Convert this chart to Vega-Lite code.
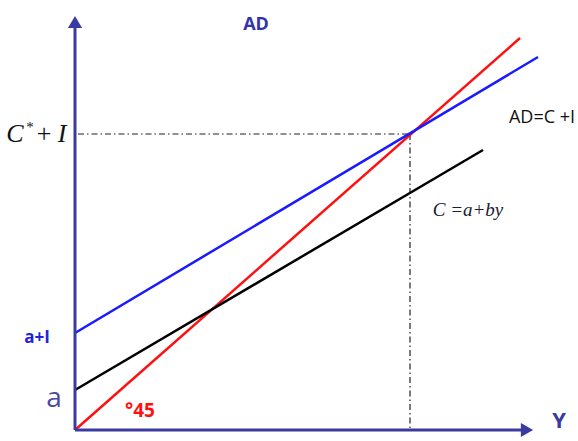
{
  "$schema": "https://vega.github.io/schema/vega-lite/v6.json",
  "width": 578,
  "height": 441,
  "autosize": {"type": "fit", "contains": "padding"},
  "padding": 0,
  "background": "white",
  "config": {"view": {"stroke": null}},
  "datasets": {
    "lines": [
      {"series": "red", "x": 0, "y": 0},
      {"series": "red", "x": 445, "y": 392},
      {"series": "blue", "x": 0, "y": 97},
      {"series": "blue", "x": 463, "y": 373},
      {"series": "black", "x": 0, "y": 40},
      {"series": "black", "x": 408, "y": 280}
    ],
    "guides": [
      {"g": "h", "x": 3, "y": 296},
      {"g": "h", "x": 335, "y": 296},
      {"g": "v", "x": 335, "y": 296},
      {"g": "v", "x": 335, "y": 2}
    ],
    "axes": [
      {"a": "x", "x": 0, "y": 0},
      {"a": "x", "x": 452, "y": 0},
      {"a": "y", "x": 0, "y": 0},
      {"a": "y", "x": 0, "y": 405}
    ]
  },
  "encoding": {
    "x": {"field": "x", "type": "quantitative", "scale": {"domain": [-75, 503], "nice": false, "zero": false}, "axis": null},
    "y": {"field": "y", "type": "quantitative", "scale": {"domain": [-11, 430], "nice": false, "zero": false}, "axis": null}
  },
  "layer": [
    {
      "data": {"name": "guides"},
      "mark": {"type": "line", "color": "#222222", "strokeWidth": 1.2, "strokeDash": [6, 3, 1.5, 3]},
      "encoding": {"detail": {"field": "g"}}
    },
    {
      "data": {"name": "lines"},
      "mark": {"type": "line", "strokeWidth": 2.5},
      "encoding": {
        "color": {"field": "series", "type": "nominal", "scale": {"domain": ["red", "blue", "black"], "range": ["#ff1010", "#1a1aff", "#000000"]}, "legend": null}
      }
    },
    {
      "data": {"name": "axes"},
      "mark": {"type": "line", "color": "#3a3aa0", "strokeWidth": 3},
      "encoding": {"detail": {"field": "a"}}
    },
    {
      "data": {"values": [{"x": 0, "y": 408}]},
      "mark": {"type": "point", "shape": "triangle-up", "filled": true, "opacity": 1, "color": "#3a3aa0", "size": 200}
    },
    {
      "data": {"values": [{"x": 452, "y": 0}]},
      "mark": {"type": "point", "shape": "triangle-right", "filled": true, "opacity": 1, "color": "#3a3aa0", "size": 200}
    },
    {
      "data": {"values": [{"x": 181, "y": 405, "t": "AD"}]},
      "mark": {"type": "text", "font": "Open Sans", "fontWeight": "bold", "fontSize": 18, "color": "#3333aa", "baseline": "middle"},
      "encoding": {"text": {"field": "t"}}
    },
    {
      "data": {"values": [{"x": 484, "y": 9, "t": "Y"}]},
      "mark": {"type": "text", "font": "Open Sans", "fontWeight": "bold", "fontSize": 22, "color": "#3a3aa0", "baseline": "middle"},
      "encoding": {"text": {"field": "t"}}
    },
    {
      "data": {"values": [{"x": -60, "y": 296, "t": "C"}, {"x": -13, "y": 296, "t": "I"}]},
      "mark": {"type": "text", "font": "Liberation Serif", "fontStyle": "italic", "fontSize": 26, "color": "#111111", "baseline": "middle"},
      "encoding": {"text": {"field": "t"}}
    },
    {
      "data": {"values": [{"x": -45, "y": 303, "t": "*"}]},
      "mark": {"type": "text", "font": "Liberation Serif", "fontSize": 15, "color": "#111111", "baseline": "middle"},
      "encoding": {"text": {"field": "t"}}
    },
    {
      "data": {"values": [{"x": -31, "y": 296, "t": "+"}]},
      "mark": {"type": "text", "font": "Liberation Serif", "fontSize": 26, "color": "#111111", "baseline": "middle"},
      "encoding": {"text": {"field": "t"}}
    },
    {
      "data": {"values": [{"x": 467, "y": 312, "t": "AD=C +I"}]},
      "mark": {"type": "text", "font": "Open Sans", "fontSize": 18, "color": "#111111", "baseline": "middle"},
      "encoding": {"text": {"field": "t"}}
    },
    {
      "data": {"values": [{"x": 393, "y": 220, "t": "C =a+by"}]},
      "mark": {"type": "text", "font": "Liberation Serif", "fontStyle": "italic", "fontSize": 19, "color": "#1a1a33", "baseline": "middle"},
      "encoding": {"text": {"field": "t"}}
    },
    {
      "data": {"values": [{"x": -38, "y": 92, "t": "a+I"}]},
      "mark": {"type": "text", "font": "Open Sans", "fontWeight": "bold", "fontSize": 17, "color": "#2222dd", "baseline": "middle"},
      "encoding": {"text": {"field": "t"}}
    },
    {
      "data": {"values": [{"x": -21, "y": 31, "t": "a"}]},
      "mark": {"type": "text", "font": "Open Sans", "fontSize": 28, "color": "#4a4a9a", "baseline": "middle"},
      "encoding": {"text": {"field": "t"}}
    },
    {
      "data": {"values": [{"x": 65, "y": 19, "t": "°45"}]},
      "mark": {"type": "text", "font": "Open Sans", "fontWeight": "bold", "fontSize": 19, "color": "#ff1010", "baseline": "middle"},
      "encoding": {"text": {"field": "t"}}
    }
  ]
}
